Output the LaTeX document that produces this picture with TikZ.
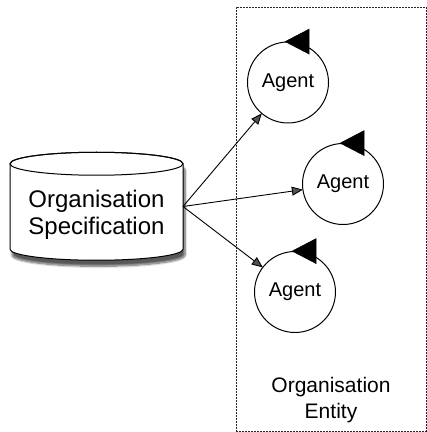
\documentclass[tikz,border=0pt]{standalone}
\usepackage{fontspec}
\setmainfont{Liberation Sans}
\usetikzlibrary{arrows.meta,shapes.geometric,shadows.blur}
\begin{document}
\begin{tikzpicture}[x=1pt,y=1pt,
  agent/.style={draw, ellipse, line width=1pt, minimum width=81pt, minimum height=81pt,
    inner sep=0pt, outer sep=0pt, font=\fontsize{20}{24}\selectfont},
  conn/.style={line width=0.9pt, -{Triangle[length=11pt,width=9pt]}},
  loophead/.style={fill=black, draw=black, line width=0.5pt, line join=miter},
  framebox/.style={draw=black!85, line width=0.9pt, dash pattern=on 1.6pt off 1.4pt,
    minimum width=190pt, minimum height=424pt, inner sep=0pt, outer sep=0pt},
  cylbody/.style={draw, line width=1pt, fill=white},
  bigtext/.style={align=center, font=\fontsize{24}{27}\selectfont, inner sep=0pt},
  enttext/.style={align=center, font=\fontsize{21}{26}\selectfont, inner sep=0pt}
]
\useasboundingbox (0,0) rectangle (427,432);
% organisation entity frame
\node[framebox] (ent) at (331,213) {};
\node[enttext] (entlbl) at (331,32) {Organisation\\Entity};

% cylinder
\node[minimum width=173pt, minimum height=85.5pt, inner sep=0pt, outer sep=0pt] (spec) at (96.5,225.5) {};
\path[cylbody, blur shadow={shadow xshift=2pt, shadow yshift=-6pt, shadow blur steps=8, shadow opacity=65}]
  (spec.north west) -- (spec.south west)
  arc[start angle=180, end angle=360, x radius=86.5, y radius=11]
  -- (spec.north east)
  arc[start angle=0, end angle=180, x radius=86.5, y radius=11.5] -- cycle;
\draw[line width=1pt] (spec.north) ellipse[x radius=86.5, y radius=11.5];
\node[bigtext] (spectxt) at (96.5,217) {Organisation\\Specification};

% agents
\node[agent] (a1) at (288,349.5) {Agent};
\node[agent] (a2) at (343,248) {Agent};
\node[agent] (a3) at (295,140) {Agent};

% self loops (arrowhead sitting on the top of each agent, pointing left)
\foreach \a in {a1,a2,a3}{
  \filldraw[loophead] ([yshift=0.5pt]\a.94) -- ++(24,12.5) -- ++(0,-25) -- cycle;
}

% connectors
\draw[conn] (spec.east) -- (a1);
\draw[conn] (spec.east) -- (a2);
\draw[conn] (spec.east) -- (a3);
\end{tikzpicture}
\end{document}
